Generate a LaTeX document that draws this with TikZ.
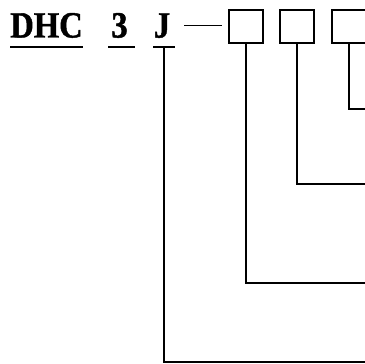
\documentclass[tikz,border=0pt]{standalone}
\usepackage{fontspec}
\setmainfont{Liberation Serif}
\newfontfamily\codefont[FakeStretch=0.88,FakeBold=1.2]{Liberation Serif}
\tikzset{every picture/.style={line width=1.2pt}}
\tikzset{
codetext/.style={anchor=base, inner sep=0pt, font=\codefont\bfseries\fontsize{37}{37}\selectfont},
digitbox/.style={draw, minimum width=34pt, minimum height=33pt, inner sep=0pt},
underbar/.style={line width=2pt}}

\begin{document}
\begin{tikzpicture}[x=1pt,y=1pt,yscale=-1]
\useasboundingbox (0,0) rectangle (365,364);
\clip (0,0) rectangle (365,364);

% Text Node
\node[codetext] (dhc) at (46.5,37.5) {DHC};
\node[codetext] (three) at (119.5,37.5) {3};
\node[codetext] (jj) at (162,37.5) {J};
%Straight Lines (underlines)
\draw[underbar] (10,47) -- (83,47);
\draw[underbar] (108,47) -- (135,47);
\draw[underbar] (153,47) -- (175,47) coordinate[pos=0.5] (jfoot);
%Straight Lines (dash)
\draw (184,25.5) -- (222,25.5);

% Boxes
\node[digitbox] (box1) at (246,26.5) {};
\node[digitbox] (box2) at (297,26.5) {};
\node[digitbox] (box3) at (349,26.5) {};

% right edge ends
\coordinate (end3) at (366,109);
\coordinate (end2) at (366,184);
\coordinate (end1) at (366,283);
\coordinate (endj) at (366,362);

%Straight Lines (leaders)
\draw (box3.south) |- (end3);
\draw (box2.south) |- (end2);
\draw (box1.south) |- (end1);
\draw (jfoot) |- (endj);

\end{tikzpicture}
\end{document}
